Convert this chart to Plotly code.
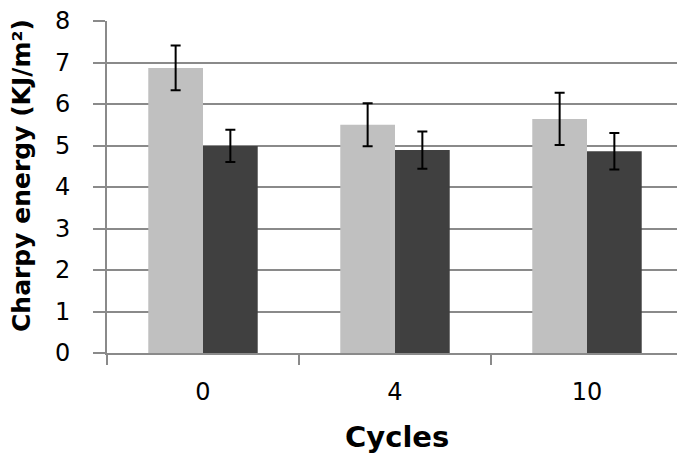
import plotly.graph_objects as go

categories = ["0", "4", "10"]
series_a = [6.87, 5.50, 5.64]
series_a_err = [0.54, 0.52, 0.63]
series_b = [4.99, 4.89, 4.86]
series_b_err = [0.39, 0.45, 0.44]
y_ticks = [0, 1, 2, 3, 4, 5, 6, 7, 8]
x_title = "Cycles"
y_title = "Charpy energy (KJ/m²)"

fig = go.Figure()
fig.add_trace(go.Bar(
    x=categories, y=series_a, marker_color="#c0c0c0",
    marker_line_width=0,
    error_y=dict(type="data", array=series_a_err, color="black", thickness=2, width=5),
))
fig.add_trace(go.Bar(
    x=categories, y=series_b, marker_color="#404040",
    marker_line_width=0,
    error_y=dict(type="data", array=series_b_err, color="black", thickness=2, width=5),
))

font_family = "'DejaVu Sans', sans-serif"
grid_col = "#8a8a8a"
# page body adds an 8px offset; margins compensate so the plot area lands near 107-683 x 21-353
top_px, bottom_px = 21, 353
fig.update_layout(
    width=685, height=458,
    margin=dict(l=99, r=10, t=top_px - 8, b=458 - (bottom_px - 8), autoexpand=False),
    paper_bgcolor="white", plot_bgcolor="white",
    barmode="group", bargap=0.43, bargroupgap=0,
    showlegend=False,
    font=dict(family=font_family, color="black"),
)
fig.update_xaxes(
    type="category", automargin=False,
    showline=True, linecolor=grid_col, linewidth=2,
    ticks="outside", tickson="boundaries", ticklen=10, tickcolor=grid_col, tickwidth=2,
    tickfont=dict(size=24, family=font_family),
    ticklabelstandoff=16,
    showgrid=False,
)
fig.update_yaxes(
    range=[0, 8], tickvals=y_ticks, automargin=False,
    showline=True, linecolor=grid_col, linewidth=2,
    ticks="outside", ticklen=12, tickcolor=grid_col, tickwidth=2,
    ticklabelstandoff=18, ticklabeloverflow="allow",
    showgrid=True, gridcolor=grid_col, gridwidth=2,
    tickfont=dict(size=24, family=font_family),
    zeroline=False,
)
h = bottom_px - top_px
fig.add_annotation(
    text="<b>" + x_title + "</b>", xref="paper", yref="paper",
    x=(397 - 107) / 576, y=-(437 - bottom_px) / h, xanchor="center", yanchor="middle",
    showarrow=False, font=dict(size=29, family=font_family, color="black"),
)
fig.add_annotation(
    text="<b>" + y_title + "</b>", xref="paper", yref="paper", textangle=-90,
    x=(21 - 107) / 576, y=(bottom_px - 176) / h, xanchor="center", yanchor="middle",
    showarrow=False, font=dict(size=25, family=font_family, color="black"),
)

fig.write_html("out.html")
